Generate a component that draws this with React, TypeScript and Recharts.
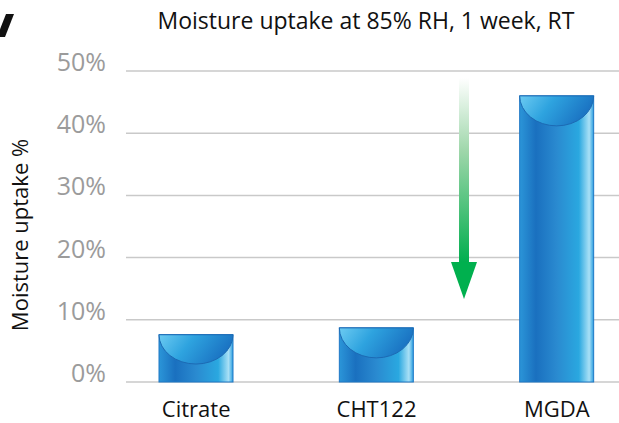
import React from "react";
import { BarChart, Bar, XAxis, YAxis, CartesianGrid } from "recharts";

// Moisture uptake (%) after 1 week at 85% RH, room temperature
const categories = ["Citrate", "CHT122", "MGDA"];
const uptake = [7.6, 8.7, 46.0];
const yTicks = [0, 10, 20, 30, 40, 50];

const data = categories.map((name, i) => ({ name, uptake: uptake[i] }));

const FONT = "'Open Sans', 'Noto Sans', sans-serif";

// Cylinder-style bar: horizontal blue gradient body + concave elliptical top
function CylinderBar(props: any) {
  const { x, y, width, height, index } = props;
  if (!height || height <= 0) return null;
  const bodyId = `body-${index}`;
  const capId = `cap-${index}`;
  const depth = Math.min(30, height * 0.62);
  return (
    <g>
      <defs>
        <linearGradient id={bodyId} x1="0" y1="0" x2="1" y2="0">
          <stop offset="0" stopColor="#2b95d8" />
          <stop offset="0.22" stopColor="#1a70bf" />
          <stop offset="0.5" stopColor="#2a8ad0" />
          <stop offset="0.8" stopColor="#2aa8e0" />
          <stop offset="0.94" stopColor="#a9e0f6" />
          <stop offset="1" stopColor="#2a9ee0" />
        </linearGradient>
        <linearGradient id={capId} x1="0" y1="0" x2="1" y2="0.3">
          <stop offset="0" stopColor="#6ccbf2" />
          <stop offset="0.45" stopColor="#2ea3df" />
          <stop offset="1" stopColor="#1a72c2" />
        </linearGradient>
      </defs>
      <rect x={x} y={y} width={width} height={height} fill={`url(#${bodyId})`} stroke="#1f78c6" strokeWidth={1} />
      <path
        d={`M ${x} ${y} A ${width / 2} ${depth} 0 0 0 ${x + width} ${y} Z`}
        fill={`url(#${capId})`}
        stroke="#1c6ab4"
        strokeWidth={1}
      />
    </g>
  );
}

function YTick(props: any) {
  const { x, y, payload } = props;
  return (
    <text x={x} y={y} textAnchor="end" fill="#9b9b9b" fontSize={25} fontFamily={FONT}>
      {`${payload.value}%`}
    </text>
  );
}

export default function App() {
  return (
    <div style={{ position: "absolute", left: 0, top: 0, width: 619, height: 423, overflow: "hidden", background: "#fff" }}>
      <BarChart
        width={640}
        height={423}
        data={data}
        margin={{ top: 71, right: 0, bottom: 0, left: 0 }}
      >
        <CartesianGrid vertical={false} stroke="#c9c9c9" strokeWidth={1.5} />
        <XAxis
          dataKey="name"
          axisLine={false}
          tickLine={false}
          height={41}
          tickMargin={13}
          padding={{ left: -20, right: -7 }}
          tick={{ fill: "#111", fontSize: 22, fontFamily: FONT }}
        />
        <YAxis
          width={126}
          domain={[0, 50]}
          ticks={yTicks}
          axisLine={false}
          tickLine={false}
          tickMargin={14}
          tick={<YTick />}
        />
        <Bar dataKey="uptake" barSize={74} shape={<CylinderBar />} isAnimationActive={false} />
      </BarChart>
      <svg width={619} height={423} style={{ position: "absolute", left: 0, top: 0, pointerEvents: "none" }}>
        <defs>
          <linearGradient id="shaft" x1="0" y1="0" x2="0" y2="1">
            <stop offset="0" stopColor="#ffffff" />
            <stop offset="0.4" stopColor="#9dd6a9" />
            <stop offset="1" stopColor="#00ae4e" />
          </linearGradient>
        </defs>
        {/* cut-off glyph from neighbouring panel */}
        <polygon points="6,14 14,14 5,37 -3,37" fill="#111" />
        <text x={366} y={29} textAnchor="middle" fontSize={23} fill="#111" fontFamily={FONT}>
          Moisture uptake at 85% RH, 1 week, RT
        </text>
        <text
          x={0}
          y={0}
          transform="translate(28,235) rotate(-90)"
          textAnchor="middle"
          fontSize={22}
          fill="#111"
          fontFamily={FONT}
        >
          Moisture uptake %
        </text>
        {/* green reduction arrow */}
        <rect x={459} y={78} width={10} height={185} fill="url(#shaft)" />
        <polygon points="451,262 477,262 464,299" fill="#00b04e" />
      </svg>
    </div>
  );
}
